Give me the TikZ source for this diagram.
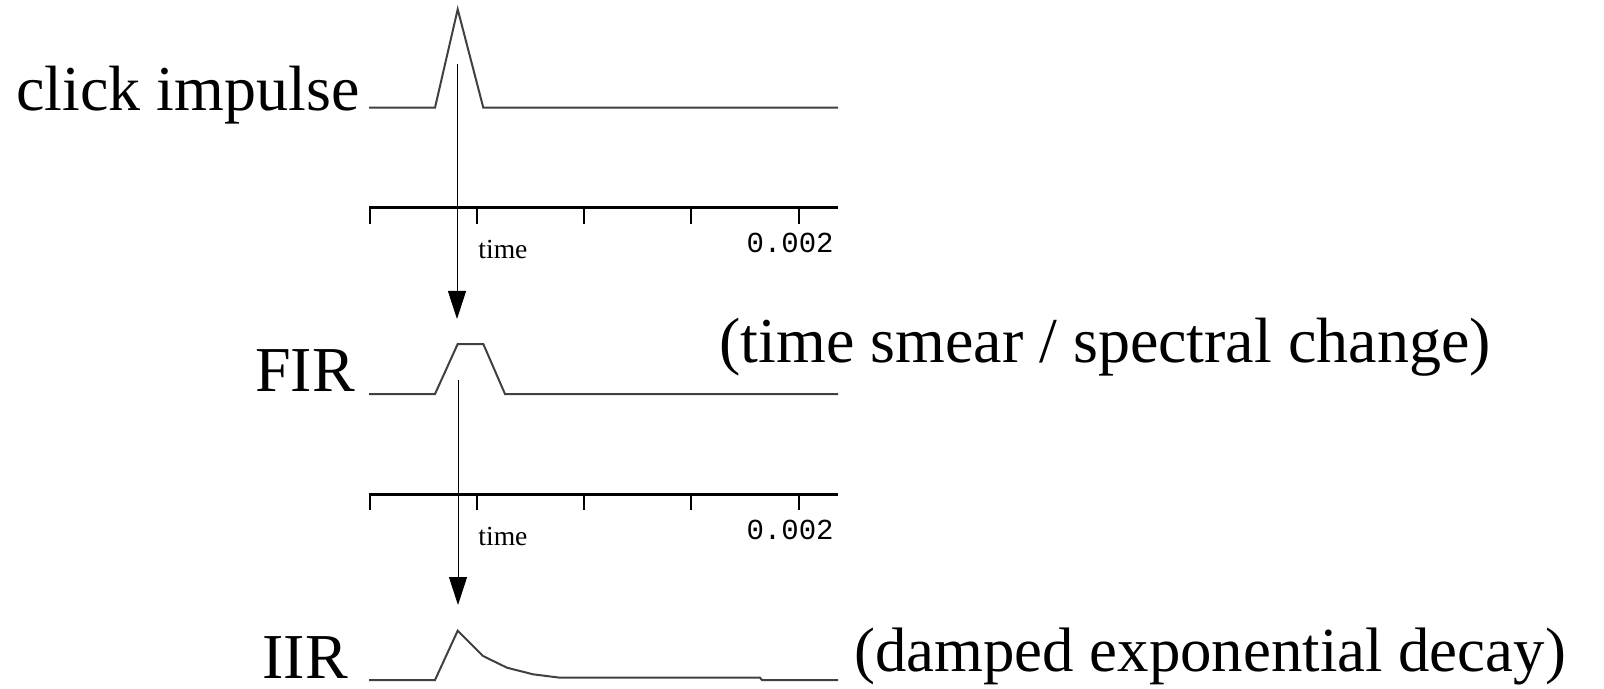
\documentclass[tikz,border=0pt]{standalone}
\usepackage{fontspec}
\setmainfont{Liberation Serif}
\newfontfamily\plotmono{Liberation Mono}
\usetikzlibrary{arrows.meta,positioning}
\definecolor{tracegray}{RGB}{64,64,64}
\tikzset{
    % Big serif labels
    bigtext/.style={font=\fontsize{32}{38}\selectfont, inner sep=0pt},
    % Small plot labels
    axislabel/.style={font=\fontsize{13.8}{16}\selectfont, inner sep=0pt},
    axisnum/.style={font=\plotmono\fontsize{14.5}{16}\selectfont, inner sep=0pt},
    % Signal traces and axes
    trace/.style={line width=1pt, tracegray, line join=miter},
    axisline/.style={line width=1.5pt, black},
    tickmark/.style={line width=1pt, black},
    % Flow arrow between plots
    flowarc/.style={-{Triangle[length=14pt,width=9pt]}, line width=0.5pt, black},
}
\begin{document}
\begin{tikzpicture}[x=0.5pt,y=-0.5pt]
  \useasboundingbox (0,0) rectangle (1604,689);
  % labels
  \node[bigtext,anchor=base west] (click) at (16,111) {click impulse};
  \node[bigtext,anchor=base west] (fir) at (255,391) {FIR};
  \node[bigtext,anchor=base west] (firnote) at (719,362) {(time smear / spectral change)};
  \node[bigtext,anchor=base west] (iir) at (262,678) {IIR};
  \node[bigtext,font=\fontsize{31.4}{38}\selectfont,anchor=base west] (iirnote) at (854,671) {(damped exponential decay)};
  % traces
  \draw[trace] (369,107.7) -- (435,107.7) -- (457.7,9.3) -- (483.3,107.7) -- (838,107.7);
  \draw[trace] (369,394) -- (435,394) -- (457.7,344) -- (483.3,344) -- (505,394) -- (838,394);
  \draw[trace] (369,680) -- (435,680) -- (457.7,630.7) -- (483,656) -- (507,667.7)
    -- (533,674.3) -- (560,677.7) -- (760,677.7) -- (762,680) -- (838,680);
  % time axes
  \foreach \ay/\n in {208/1,494/2}{
    \draw[axisline] (369,\ay) -- (838,\ay);
    \foreach \tx in {370,477,584,691,799}
      \draw[tickmark] (\tx,\ay) -- ++(0,16);
    \node[axislabel,anchor=base west] (time\n) at (478,\ay+51) {time};
    \node[axisnum,anchor=base east] (num\n) at (834,\ay+45) {0.002};
  }
  % arrows
  \coordinate (a1) at (457,64);
  \coordinate (b1) at (457,319);
  \coordinate (a2) at (458,380);
  \coordinate (b2) at (458,605);
  \draw[flowarc] (a1) -- (b1);
  \draw[flowarc] (a2) -- (b2);
\end{tikzpicture}
\end{document}
